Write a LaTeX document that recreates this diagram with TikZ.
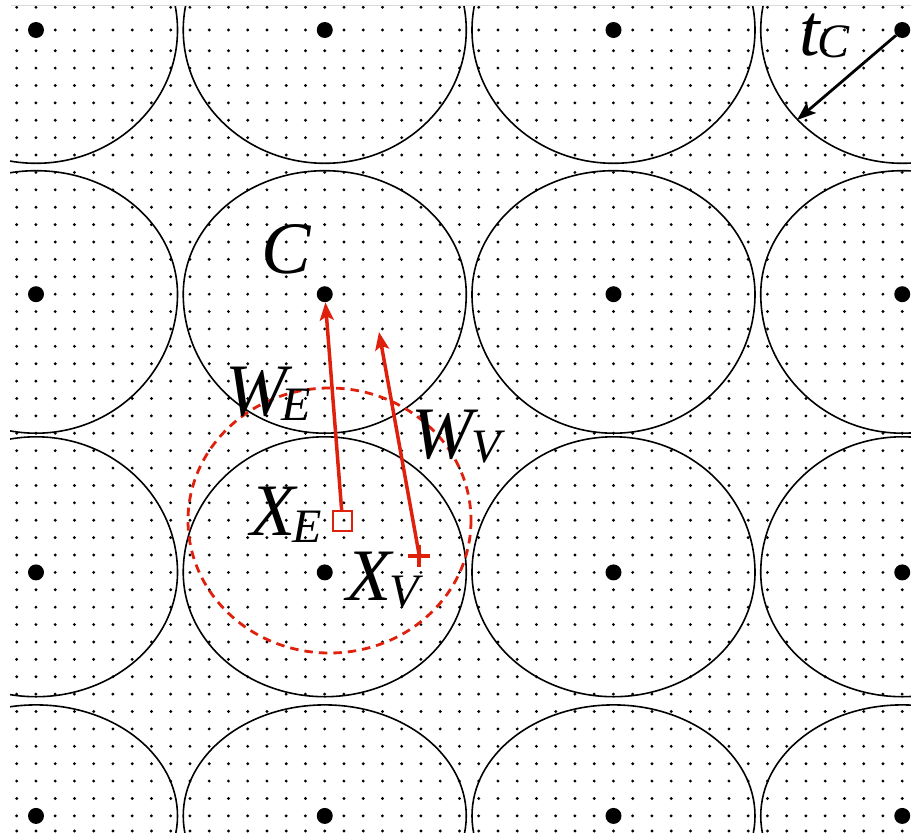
\documentclass[tikz,border=0pt]{standalone}
\usepackage{fontspec}
\setmainfont{Liberation Serif}
\usetikzlibrary{arrows.meta,calc}
\definecolor{myred}{RGB}{222,32,12}
\newcommand{\bigf}{\fontsize{74}{74}\selectfont\itshape}
\newcommand{\subf}{\fontsize{48}{48}\selectfont\itshape}
% main letter, kern, drop, subscript
\newcommand{\sublab}[4]{{\bigf #1}\kern#2\raisebox{#3}{\subf #4}}
\begin{document}
\begin{tikzpicture}[x=1pt,y=-1pt,
  circ/.style={draw=black,line width=1.6pt},
  bigdot/.style={circle,fill=black,inner sep=0pt,minimum size=16pt},
  lab/.style={inner sep=0pt,anchor=base west},
  redarrow/.style={draw=myred,line width=3.5pt,-{Stealth[length=18pt,width=14pt,inset=4pt]}},
  blackarrow/.style={draw=black,line width=2.8pt,-{Stealth[length=19pt,width=14pt,inset=4pt]}},
  plusline/.style={draw=myred,line width=3.8pt},
  sqbox/.style={draw=myred,line width=2.3pt,minimum size=19.5pt,inner sep=0pt,rectangle},
  dashcirc/.style={draw=myred,line width=2.8pt,dash pattern=on 8.5pt off 6pt}]
\useasboundingbox (0,0) rectangle (911,833);
\begin{scope}
\clip (10,5) rectangle (911,833);
% fine lattice
\foreach \j in {0,...,47} {
  \ifnum\j=0 \def\yy{7.3}\else\ifnum\j=1 \def\yy{30}\else\pgfmathsetmacro\yy{min(50.7+(\j-2)*17.39,831)}\fi\fi
  \foreach \i in {0,...,46} {\fill (16.7+19.25*\i,\yy) circle[radius=1.6];}
}
% circles of the coarse lattice
\foreach \cy/\rt/\rb in {30/133/133.3, 294.2/123.5/139, 572.4/135.6/124.3, 815.9/111/111} {
  \foreach \cx in {36,324.75,613.5,902.25} {
    \draw[circ] (\cx+141.5,\cy) arc[start angle=0,end angle=180,x radius=141.5,y radius=\rb]
      arc[start angle=180,end angle=360,x radius=141.5,y radius=\rt];
  }
}
\end{scope}
\draw[black!15,line width=0.8pt] (11,5) -- (911,5);
% coarse lattice points
\foreach \cy [count=\r] in {30,294.2,572.4,815.9} {
  \foreach \cx [count=\c] in {36,324.75,613.5,902.25} {
    \node[bigdot] (b-\c-\r) at (\cx,\cy) {};
  }
}
% red dashed circle
\draw[dashcirc] (329.5,520.5) ellipse[x radius=141.5,y radius=132.5];
% X_E and X_V
\node[sqbox] (XE) at (342.5,521) {};
\coordinate (XV) at (419.3,555.7);
\draw[plusline] ($(XV)+(-11,0)$) -- ($(XV)+(11,0)$);
\draw[plusline] ($(XV)+(0,-11)$) -- ($(XV)+(0,11)$);
% arrows
\draw[redarrow] (XE) -- (b-2-2);
\coordinate (WVtip) at (379,332);
\draw[redarrow] (XV) -- (WVtip);
\coordinate (tCtip) at (797,120);
\draw[blackarrow] (b-4-1) -- (tCtip);
% labels
\node[lab] (Clab) at (261.3,273) {\bigf C};
\node[lab] (WE) at (225,415) {\sublab{W}{-5pt}{-5pt}{E}};
\node[lab] (WV) at (411,458) {\sublab{W}{-1pt}{-4pt}{V}};
\node[lab] (XEl) at (250,535) {\sublab{X}{-3pt}{-7pt}{E}};
\node[lab] (XVl) at (346,600) {\sublab{X}{-1.5pt}{-7pt}{V}};
\node[lab] (tC) at (799,55) {\sublab{t}{-2pt}{-2pt}{C}};
\end{tikzpicture}
\end{document}
